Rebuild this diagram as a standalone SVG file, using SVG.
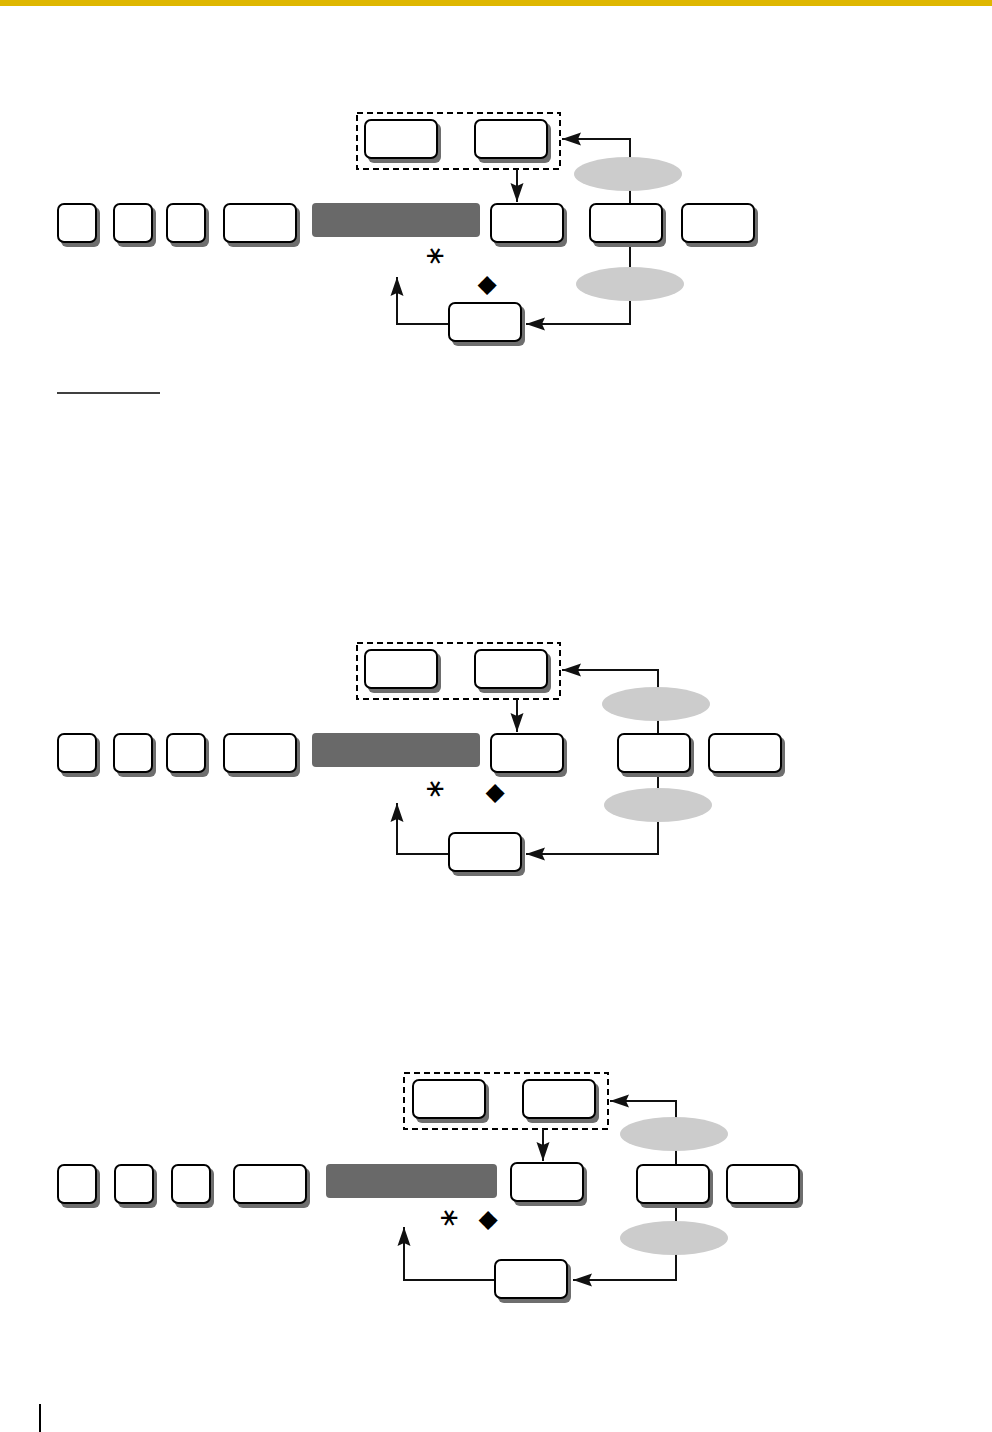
<svg xmlns="http://www.w3.org/2000/svg" width="992" height="1432" viewBox="0 0 992 1432">
<defs>
<style>
.sh{fill:#6e6e6e;stroke:none}
.bx{fill:#fff;stroke:#000;stroke-width:2}
.bar{fill:#696969}
.ov{fill:#cccccc}
.dash{fill:none;stroke:#000;stroke-width:2;stroke-dasharray:6 4}
.ar{fill:none;stroke:#111;stroke-width:2;marker-end:url(#ah)}
.ast{font-family:"DejaVu Sans",sans-serif;font-size:26px;text-anchor:middle;fill:#000}
.dia{font-family:"DejaVu Sans",sans-serif;font-size:25px;text-anchor:middle;fill:#000}
</style>
<marker id="ah" markerWidth="20" markerHeight="14" refX="19" refY="7" orient="auto" markerUnits="userSpaceOnUse">
<path d="M0,0.5 L19,7 L0,13.5 L3,7 Z" fill="#111"/>
</marker>
</defs>
<rect x="0" y="0" width="992" height="6" fill="#DFB700"/>
<line x1="40" y1="1404" x2="40" y2="1432" stroke="#000" stroke-width="2"/>
<line x1="57" y1="393" x2="160" y2="393" stroke="#000" stroke-width="1.5"/>

<!-- Diagram 1 -->
<g id="d1-connectors">
<rect class="dash" x="357" y="113" width="203" height="56"/>
<path class="ar" d="M517,169 L517,202"/>
<path class="ar" d="M630,203 L630,139 L562,139"/>
<path class="ar" d="M630,243 L630,324 L526,324"/>
<path class="ar" d="M448,324 L397,324 L397,277"/>
</g>
<g id="d1-k1"><rect class="sh" x="61" y="207" width="39" height="40" rx="6"/><rect class="bx" x="58" y="204" width="38" height="38" rx="6"/></g>
<g id="d1-k2"><rect class="sh" x="117" y="207" width="39" height="40" rx="6"/><rect class="bx" x="114" y="204" width="38" height="38" rx="6"/></g>
<g id="d1-k3"><rect class="sh" x="170" y="207" width="39" height="40" rx="6"/><rect class="bx" x="167" y="204" width="38" height="38" rx="6"/></g>
<g id="d1-k4"><rect class="sh" x="227" y="207" width="73" height="40" rx="6"/><rect class="bx" x="224" y="204" width="72" height="38" rx="6"/></g>
<g id="d1-bar"><rect class="bar" x="312" y="203" width="168" height="34" rx="4"/></g>
<g id="d1-a"><rect class="sh" x="368" y="123" width="73" height="40" rx="6"/><rect class="bx" x="365" y="120" width="72" height="38" rx="6"/></g>
<g id="d1-b"><rect class="sh" x="478" y="123" width="73" height="40" rx="6"/><rect class="bx" x="475" y="120" width="72" height="38" rx="6"/></g>
<g id="d1-c"><rect class="sh" x="494" y="207" width="73" height="40" rx="6"/><rect class="bx" x="491" y="204" width="72" height="38" rx="6"/></g>
<g id="d1-d"><rect class="sh" x="593" y="207" width="73" height="40" rx="6"/><rect class="bx" x="590" y="204" width="72" height="38" rx="6"/></g>
<g id="d1-e"><rect class="sh" x="685" y="207" width="73" height="40" rx="6"/><rect class="bx" x="682" y="204" width="72" height="38" rx="6"/></g>
<g id="d1-f"><rect class="sh" x="452" y="306" width="73" height="40" rx="6"/><rect class="bx" x="449" y="303" width="72" height="38" rx="6"/></g>
<g id="d1-o1"><ellipse class="ov" cx="628" cy="174" rx="54" ry="17"/></g>
<g id="d1-o2"><ellipse class="ov" cx="630" cy="284" rx="54" ry="17"/></g>
<text class="ast" x="436" y="265" transform="rotate(90 436 256)">∗</text>
<text class="dia" x="487" y="292">◆</text>

<!-- Diagram 2 -->
<g id="d2-connectors">
<rect class="dash" x="357" y="643" width="203" height="56"/>
<path class="ar" d="M517,699 L517,732"/>
<path class="ar" d="M658,733 L658,670 L562,670"/>
<path class="ar" d="M658,773 L658,854 L526,854"/>
<path class="ar" d="M448,854 L397,854 L397,803"/>
</g>
<g id="d2-k1"><rect class="sh" x="61" y="737" width="39" height="40" rx="6"/><rect class="bx" x="58" y="734" width="38" height="38" rx="6"/></g>
<g id="d2-k2"><rect class="sh" x="117" y="737" width="39" height="40" rx="6"/><rect class="bx" x="114" y="734" width="38" height="38" rx="6"/></g>
<g id="d2-k3"><rect class="sh" x="170" y="737" width="39" height="40" rx="6"/><rect class="bx" x="167" y="734" width="38" height="38" rx="6"/></g>
<g id="d2-k4"><rect class="sh" x="227" y="737" width="73" height="40" rx="6"/><rect class="bx" x="224" y="734" width="72" height="38" rx="6"/></g>
<g id="d2-bar"><rect class="bar" x="312" y="733" width="168" height="34" rx="4"/></g>
<g id="d2-a"><rect class="sh" x="368" y="653" width="73" height="40" rx="6"/><rect class="bx" x="365" y="650" width="72" height="38" rx="6"/></g>
<g id="d2-b"><rect class="sh" x="478" y="653" width="73" height="40" rx="6"/><rect class="bx" x="475" y="650" width="72" height="38" rx="6"/></g>
<g id="d2-c"><rect class="sh" x="494" y="737" width="73" height="40" rx="6"/><rect class="bx" x="491" y="734" width="72" height="38" rx="6"/></g>
<g id="d2-d"><rect class="sh" x="621" y="737" width="73" height="40" rx="6"/><rect class="bx" x="618" y="734" width="72" height="38" rx="6"/></g>
<g id="d2-e"><rect class="sh" x="712" y="737" width="73" height="40" rx="6"/><rect class="bx" x="709" y="734" width="72" height="38" rx="6"/></g>
<g id="d2-f"><rect class="sh" x="452" y="836" width="73" height="40" rx="6"/><rect class="bx" x="449" y="833" width="72" height="38" rx="6"/></g>
<g id="d2-o1"><ellipse class="ov" cx="656" cy="704" rx="54" ry="17"/></g>
<g id="d2-o2"><ellipse class="ov" cx="658" cy="805" rx="54" ry="17"/></g>
<text class="ast" x="436" y="798" transform="rotate(90 436 789)">∗</text>
<text class="dia" x="495" y="800">◆</text>

<!-- Diagram 3 -->
<g id="d3-connectors">
<rect class="dash" x="404" y="1073" width="204" height="56"/>
<path class="ar" d="M543,1129 L543,1161"/>
<path class="ar" d="M676,1164 L676,1101 L610,1101"/>
<path class="ar" d="M676,1204 L676,1280 L573,1280"/>
<path class="ar" d="M494,1280 L404,1280 L404,1227"/>
</g>
<g id="d3-k1"><rect class="sh" x="61" y="1168" width="39" height="40" rx="6"/><rect class="bx" x="58" y="1165" width="38" height="38" rx="6"/></g>
<g id="d3-k2"><rect class="sh" x="118" y="1168" width="39" height="40" rx="6"/><rect class="bx" x="115" y="1165" width="38" height="38" rx="6"/></g>
<g id="d3-k3"><rect class="sh" x="175" y="1168" width="39" height="40" rx="6"/><rect class="bx" x="172" y="1165" width="38" height="38" rx="6"/></g>
<g id="d3-k4"><rect class="sh" x="237" y="1168" width="73" height="40" rx="6"/><rect class="bx" x="234" y="1165" width="72" height="38" rx="6"/></g>
<g id="d3-bar"><rect class="bar" x="326" y="1164" width="171" height="34" rx="4"/></g>
<g id="d3-a"><rect class="sh" x="416" y="1083" width="73" height="40" rx="6"/><rect class="bx" x="413" y="1080" width="72" height="38" rx="6"/></g>
<g id="d3-b"><rect class="sh" x="526" y="1083" width="73" height="40" rx="6"/><rect class="bx" x="523" y="1080" width="72" height="38" rx="6"/></g>
<g id="d3-c"><rect class="sh" x="514" y="1166" width="73" height="40" rx="6"/><rect class="bx" x="511" y="1163" width="72" height="38" rx="6"/></g>
<g id="d3-d"><rect class="sh" x="640" y="1168" width="73" height="40" rx="6"/><rect class="bx" x="637" y="1165" width="72" height="38" rx="6"/></g>
<g id="d3-e"><rect class="sh" x="730" y="1168" width="73" height="40" rx="6"/><rect class="bx" x="727" y="1165" width="72" height="38" rx="6"/></g>
<g id="d3-f"><rect class="sh" x="498" y="1263" width="73" height="40" rx="6"/><rect class="bx" x="495" y="1260" width="72" height="38" rx="6"/></g>
<g id="d3-o1"><ellipse class="ov" cx="674" cy="1134" rx="54" ry="17"/></g>
<g id="d3-o2"><ellipse class="ov" cx="674" cy="1238" rx="54" ry="17"/></g>
<text class="ast" x="450" y="1227" transform="rotate(90 450 1218)">∗</text>
<text class="dia" x="488" y="1227">◆</text>
</svg>
